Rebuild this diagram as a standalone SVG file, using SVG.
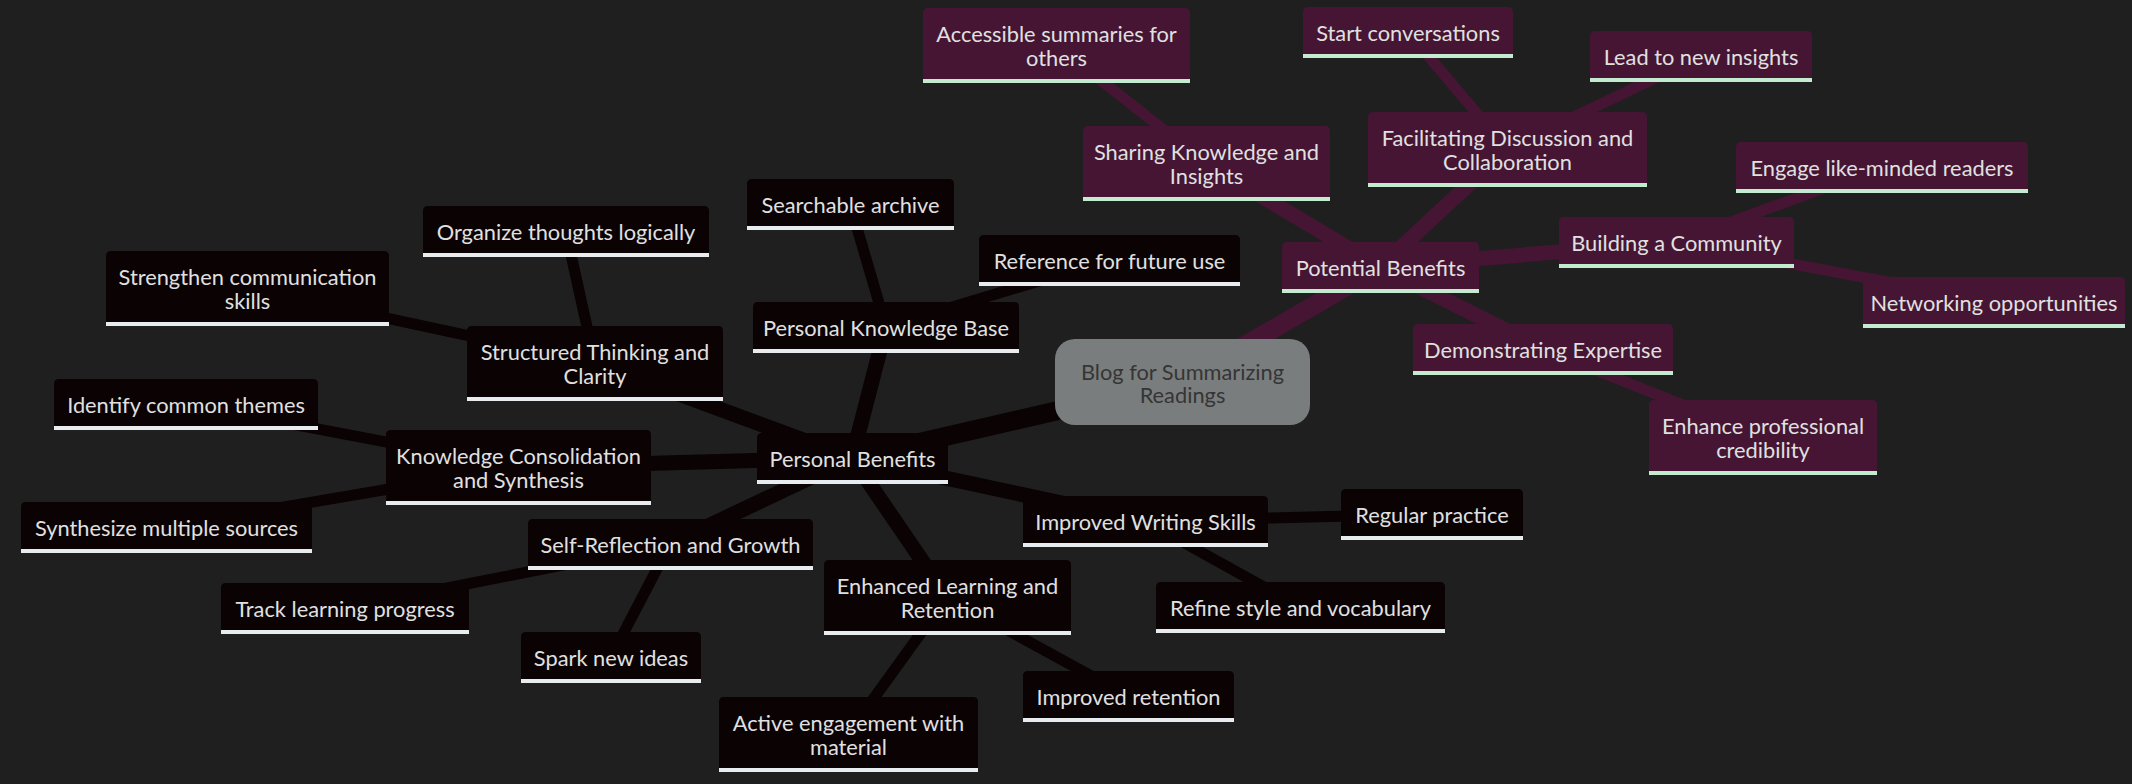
<svg xmlns="http://www.w3.org/2000/svg" width="2132" height="784" viewBox="0 0 2132 784">
<style>
.t{font-family:Lato,"Liberation Sans",sans-serif;font-size:21.8px;fill:#e0e0e0;text-anchor:middle}
.rt{font-family:Lato,"Liberation Sans",sans-serif;font-size:21.8px;fill:#353535;text-anchor:middle}
.n0{fill:#0a0203}.n1{fill:#451533}
.u0{fill:#e8ecee}.u1{fill:#c3ebcf}
.e0{stroke:#0a0203;fill:none}.e1{stroke:#451533;fill:none}
.d0{stroke-width:19}.d1{stroke-width:15}.d2{stroke-width:11}
</style>
<rect width="2132" height="784" fill="#1f1f1f"/>
<g id="edges">
<line class="e0 d0" x1="1182" y1="382" x2="852" y2="458"/>
<line class="e1 d0" x1="1182" y1="382" x2="1380" y2="267"/>
<line class="e0 d1" x1="852" y1="458" x2="886" y2="327"/>
<line class="e0 d1" x1="852" y1="458" x2="595" y2="363"/>
<line class="e0 d1" x1="852" y1="458" x2="518" y2="467"/>
<line class="e0 d1" x1="852" y1="458" x2="670" y2="544"/>
<line class="e0 d1" x1="852" y1="458" x2="947" y2="597"/>
<line class="e0 d1" x1="852" y1="458" x2="1145" y2="521"/>
<line class="e0 d2" x1="886" y1="327" x2="850" y2="204"/>
<line class="e0 d2" x1="886" y1="327" x2="1109" y2="260"/>
<line class="e0 d2" x1="595" y1="363" x2="566" y2="232"/>
<line class="e0 d2" x1="595" y1="363" x2="247" y2="288"/>
<line class="e0 d2" x1="518" y1="467" x2="186" y2="404"/>
<line class="e0 d2" x1="518" y1="467" x2="166" y2="527"/>
<line class="e0 d2" x1="670" y1="544" x2="345" y2="608"/>
<line class="e0 d2" x1="670" y1="544" x2="611" y2="657"/>
<line class="e0 d2" x1="947" y1="597" x2="1128" y2="696"/>
<line class="e0 d2" x1="947" y1="597" x2="848" y2="734"/>
<line class="e0 d2" x1="1145" y1="521" x2="1432" y2="514"/>
<line class="e0 d2" x1="1145" y1="521" x2="1300" y2="607"/>
<line class="e1 d1" x1="1380" y1="267" x2="1206" y2="163"/>
<line class="e1 d1" x1="1380" y1="267" x2="1507" y2="149"/>
<line class="e1 d1" x1="1380" y1="267" x2="1676" y2="242"/>
<line class="e1 d1" x1="1380" y1="267" x2="1543" y2="349"/>
<line class="e1 d2" x1="1206" y1="163" x2="1056" y2="45"/>
<line class="e1 d2" x1="1507" y1="149" x2="1408" y2="32"/>
<line class="e1 d2" x1="1507" y1="149" x2="1701" y2="56"/>
<line class="e1 d2" x1="1676" y1="242" x2="1882" y2="167"/>
<line class="e1 d2" x1="1676" y1="242" x2="1994" y2="302"/>
<line class="e1 d2" x1="1543" y1="349" x2="1763" y2="437"/>
</g>
<g id="root"><rect x="1055" y="339" width="255" height="86" rx="20" fill="#7a7d7d"/><text class="rt" x="1182.5" y="380">Blog for Summarizing</text><text class="rt" x="1182.5" y="403">Readings</text></g>
<g id="n-personal-benefits"><path class="n0" d="M757 480V438Q757 433 762 433H943Q948 433 948 438V480Z"/><rect class="u0" x="757" y="480" width="191" height="4"/><text class="t" x="852.5" y="467">Personal Benefits</text></g>
<g id="n-personal-kb"><path class="n0" d="M753 349V307Q753 302 758 302H1014Q1019 302 1019 307V349Z"/><rect class="u0" x="753" y="349" width="266" height="4"/><text class="t" x="886" y="336">Personal Knowledge Base</text></g>
<g id="n-searchable"><path class="n0" d="M747 226V184Q747 179 752 179H949Q954 179 954 184V226Z"/><rect class="u0" x="747" y="226" width="207" height="4"/><text class="t" x="850.5" y="213">Searchable archive</text></g>
<g id="n-reference"><path class="n0" d="M979 282V240Q979 235 984 235H1235Q1240 235 1240 240V282Z"/><rect class="u0" x="979" y="282" width="261" height="4"/><text class="t" x="1109.5" y="269">Reference for future use</text></g>
<g id="n-structured"><path class="n0" d="M467 397V331Q467 326 472 326H718Q723 326 723 331V397Z"/><rect class="u0" x="467" y="397" width="256" height="4"/><text class="t" x="595" y="360">Structured Thinking and</text><text class="t" x="595" y="384">Clarity</text></g>
<g id="n-organize"><path class="n0" d="M423 253V211Q423 206 428 206H704Q709 206 709 211V253Z"/><rect class="u0" x="423" y="253" width="286" height="4"/><text class="t" x="566" y="240">Organize thoughts logically</text></g>
<g id="n-strengthen"><path class="n0" d="M106 322V256Q106 251 111 251H384Q389 251 389 256V322Z"/><rect class="u0" x="106" y="322" width="283" height="4"/><text class="t" x="247.5" y="285">Strengthen communication</text><text class="t" x="247.5" y="309">skills</text></g>
<g id="n-consolidation"><path class="n0" d="M386 501V435Q386 430 391 430H646Q651 430 651 435V501Z"/><rect class="u0" x="386" y="501" width="265" height="4"/><text class="t" x="518.5" y="464">Knowledge Consolidation</text><text class="t" x="518.5" y="488">and Synthesis</text></g>
<g id="n-identify"><path class="n0" d="M54 426V384Q54 379 59 379H313Q318 379 318 384V426Z"/><rect class="u0" x="54" y="426" width="264" height="4"/><text class="t" x="186" y="413">Identify common themes</text></g>
<g id="n-synthesize"><path class="n0" d="M21 549V507Q21 502 26 502H307Q312 502 312 507V549Z"/><rect class="u0" x="21" y="549" width="291" height="4"/><text class="t" x="166.5" y="536">Synthesize multiple sources</text></g>
<g id="n-selfreflection"><path class="n0" d="M528 566V524Q528 519 533 519H808Q813 519 813 524V566Z"/><rect class="u0" x="528" y="566" width="285" height="4"/><text class="t" x="670.5" y="553">Self-Reflection and Growth</text></g>
<g id="n-track"><path class="n0" d="M221 630V588Q221 583 226 583H464Q469 583 469 588V630Z"/><rect class="u0" x="221" y="630" width="248" height="4"/><text class="t" x="345" y="617">Track learning progress</text></g>
<g id="n-spark"><path class="n0" d="M521 679V637Q521 632 526 632H696Q701 632 701 637V679Z"/><rect class="u0" x="521" y="679" width="180" height="4"/><text class="t" x="611" y="666">Spark new ideas</text></g>
<g id="n-enhanced"><path class="n0" d="M824 631V565Q824 560 829 560H1066Q1071 560 1071 565V631Z"/><rect class="u0" x="824" y="631" width="247" height="4"/><text class="t" x="947.5" y="594">Enhanced Learning and</text><text class="t" x="947.5" y="618">Retention</text></g>
<g id="n-retention"><path class="n0" d="M1023 718V676Q1023 671 1028 671H1229Q1234 671 1234 676V718Z"/><rect class="u0" x="1023" y="718" width="211" height="4"/><text class="t" x="1128.5" y="705">Improved retention</text></g>
<g id="n-active"><path class="n0" d="M719 768V702Q719 697 724 697H973Q978 697 978 702V768Z"/><rect class="u0" x="719" y="768" width="259" height="4"/><text class="t" x="848.5" y="731">Active engagement with</text><text class="t" x="848.5" y="755">material</text></g>
<g id="n-writing"><path class="n0" d="M1023 543V501Q1023 496 1028 496H1263Q1268 496 1268 501V543Z"/><rect class="u0" x="1023" y="543" width="245" height="4"/><text class="t" x="1145.5" y="530">Improved Writing Skills</text></g>
<g id="n-regular"><path class="n0" d="M1341 536V494Q1341 489 1346 489H1518Q1523 489 1523 494V536Z"/><rect class="u0" x="1341" y="536" width="182" height="4"/><text class="t" x="1432" y="523">Regular practice</text></g>
<g id="n-refine"><path class="n0" d="M1156 629V587Q1156 582 1161 582H1440Q1445 582 1445 587V629Z"/><rect class="u0" x="1156" y="629" width="289" height="4"/><text class="t" x="1300.5" y="616">Refine style and vocabulary</text></g>
<g id="n-potential"><path class="n1" d="M1282 289V247Q1282 242 1287 242H1474Q1479 242 1479 247V289Z"/><rect class="u1" x="1282" y="289" width="197" height="4"/><text class="t" x="1380.5" y="276">Potential Benefits</text></g>
<g id="n-sharing"><path class="n1" d="M1083 197V131Q1083 126 1088 126H1325Q1330 126 1330 131V197Z"/><rect class="u1" x="1083" y="197" width="247" height="4"/><text class="t" x="1206.5" y="160">Sharing Knowledge and</text><text class="t" x="1206.5" y="184">Insights</text></g>
<g id="n-accessible"><path class="n1" d="M923 79V13Q923 8 928 8H1185Q1190 8 1190 13V79Z"/><rect class="u1" x="923" y="79" width="267" height="4"/><text class="t" x="1056.5" y="42">Accessible summaries for</text><text class="t" x="1056.5" y="66">others</text></g>
<g id="n-facilitating"><path class="n1" d="M1368 183V117Q1368 112 1373 112H1642Q1647 112 1647 117V183Z"/><rect class="u1" x="1368" y="183" width="279" height="4"/><text class="t" x="1507.5" y="146">Facilitating Discussion and</text><text class="t" x="1507.5" y="170">Collaboration</text></g>
<g id="n-start"><path class="n1" d="M1303 54V12Q1303 7 1308 7H1508Q1513 7 1513 12V54Z"/><rect class="u1" x="1303" y="54" width="210" height="4"/><text class="t" x="1408" y="41">Start conversations</text></g>
<g id="n-lead"><path class="n1" d="M1590 78V36Q1590 31 1595 31H1807Q1812 31 1812 36V78Z"/><rect class="u1" x="1590" y="78" width="222" height="4"/><text class="t" x="1701" y="65">Lead to new insights</text></g>
<g id="n-community"><path class="n1" d="M1559 264V222Q1559 217 1564 217H1789Q1794 217 1794 222V264Z"/><rect class="u1" x="1559" y="264" width="235" height="4"/><text class="t" x="1676.5" y="251">Building a Community</text></g>
<g id="n-engage"><path class="n1" d="M1736 189V147Q1736 142 1741 142H2023Q2028 142 2028 147V189Z"/><rect class="u1" x="1736" y="189" width="292" height="4"/><text class="t" x="1882" y="176">Engage like-minded readers</text></g>
<g id="n-networking"><path class="n1" d="M1863 324V282Q1863 277 1868 277H2120Q2125 277 2125 282V324Z"/><rect class="u1" x="1863" y="324" width="262" height="4"/><text class="t" x="1994" y="311">Networking opportunities</text></g>
<g id="n-demonstrating"><path class="n1" d="M1413 371V329Q1413 324 1418 324H1668Q1673 324 1673 329V371Z"/><rect class="u1" x="1413" y="371" width="260" height="4"/><text class="t" x="1543" y="358">Demonstrating Expertise</text></g>
<g id="n-credibility"><path class="n1" d="M1649 471V405Q1649 400 1654 400H1872Q1877 400 1877 405V471Z"/><rect class="u1" x="1649" y="471" width="228" height="4"/><text class="t" x="1763" y="434">Enhance professional</text><text class="t" x="1763" y="458">credibility</text></g>
</svg>
